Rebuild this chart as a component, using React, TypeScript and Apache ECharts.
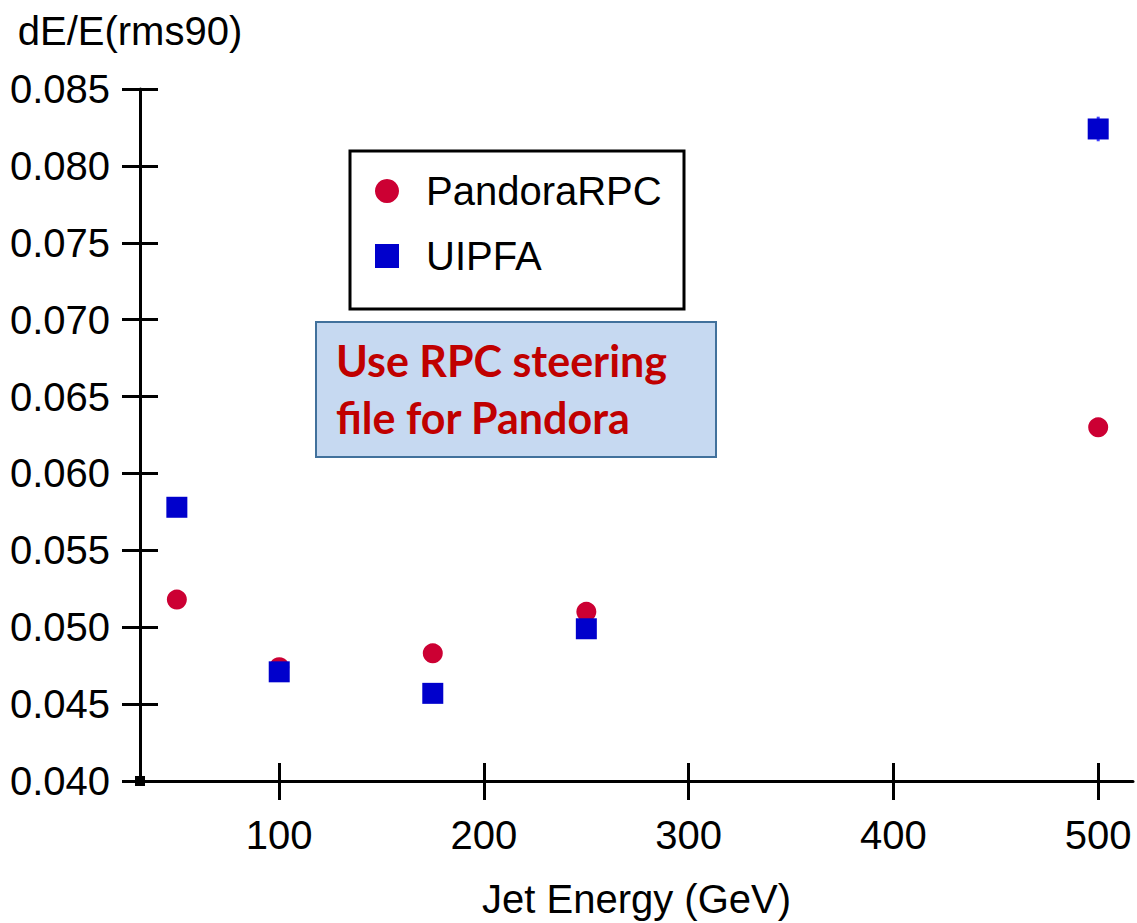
import React, { useEffect, useRef } from "react";
import * as echarts from "echarts";

const xValues = [50, 100, 175, 250, 500];
const pandoraRPC = [0.0518, 0.0474, 0.0483, 0.051, 0.063];
const uipfa = [0.0578, 0.0471, 0.0457, 0.0499, 0.0824];
const uipfaErr = [0, 0, 0, 0, 0.0008];
const xTicks = [100, 200, 300, 400, 500];
const yTicks = [0.04, 0.045, 0.05, 0.055, 0.06, 0.065, 0.07, 0.075, 0.08, 0.085];
const X_MIN = 32;
const X_MAX = 517;
const Y_MIN = 0.04;
const Y_MAX = 0.085;
const seriesNames = ["PandoraRPC", "UIPFA"];
const noteLines = ["Use RPC steering", "file for Pandora"];
const xTitle = "Jet Energy (GeV)";
const yTitle = "dE/E(rms90)";

const FONT = "'Liberation Sans', Arial, sans-serif";

export default function App() {
  const ref = useRef<HTMLDivElement>(null);
  useEffect(() => {
    if (!ref.current) return;
    const chart = echarts.init(ref.current, null, { renderer: "svg" });
    const lineStyle = { color: "#000", width: 3 };
    const xBase = {
      type: "value",
      min: X_MIN,
      max: X_MAX,
      position: "bottom",
      offset: 0,
      splitLine: { show: false },
    };
    const yBase = {
      type: "value",
      min: Y_MIN,
      max: Y_MAX,
      position: "left",
      offset: 0,
      splitLine: { show: false },
    };
    chart.setOption({
      animation: false,
      backgroundColor: "#fff",
      grid: { left: 140, right: 4, top: 89, bottom: 142, containLabel: false, outerBoundsMode: "none" },
      xAxis: [
        {
          ...xBase,
          axisLine: { show: true, lineStyle },
          axisTick: { show: true, customValues: xTicks, length: 19, lineStyle },
          axisLabel: { customValues: xTicks, fontSize: 40, color: "#000", fontFamily: FONT, margin: 34 },
          name: xTitle,
          nameLocation: "middle",
          nameGap: 98,
          nameTextStyle: { fontSize: 40, color: "#000", fontFamily: FONT },
        },
        {
          ...xBase,
          axisLine: { show: false },
          axisTick: { show: true, inside: true, customValues: xTicks, length: 18, lineStyle },
          axisLabel: { show: false },
        },
      ],
      yAxis: [
        {
          ...yBase,
          axisLine: { show: true, lineStyle },
          axisTick: { show: true, customValues: yTicks, length: 18, lineStyle },
          axisLabel: {
            customValues: yTicks,
            fontSize: 40,
            color: "#000",
            fontFamily: FONT,
            margin: 30,
            formatter: (v: number) => v.toFixed(3),
          },
          name: yTitle,
          nameLocation: "end",
          nameGap: 38,
          nameTextStyle: { fontSize: 40, color: "#000", fontFamily: FONT, padding: [0, 20, 0, 0] },
        },
        {
          ...yBase,
          axisLine: { show: false },
          axisTick: { show: true, inside: true, customValues: yTicks, length: 18, lineStyle },
          axisLabel: { show: false },
        },
      ],
      legend: {
        data: [
          { name: seriesNames[0], icon: "circle" },
          { name: seriesNames[1], icon: "rect" },
        ],
        orient: "vertical",
        left: 375,
        top: 171,
        padding: 0,
        itemWidth: 24,
        itemHeight: 24,
        itemGap: 25,
        selectedMode: false,
        textStyle: { fontSize: 40, lineHeight: 40, color: "#000", fontFamily: FONT, padding: [0, 0, 0, 22] },
      },
      graphic: [
        {
          type: "rect",
          z: 0,
          shape: { x: 350, y: 151, width: 334, height: 158 },
          style: { fill: "#fff", stroke: "#000", lineWidth: 3 },
        },
        {
          type: "rect",
          z: 0,
          shape: { x: 316, y: 322, width: 400, height: 135 },
          style: { fill: "#c6d9f1", stroke: "#41719c", lineWidth: 2 },
        },
        {
          type: "text",
          z: 1,
          x: 336,
          y: 332,
          style: {
            text: noteLines.join("\n"),
            font: "bold 43px Lato, 'Open Sans', sans-serif",
            fill: "#c00000",
            lineHeight: 57,
            verticalAlign: "top",
            align: "left",
          },
        },
      ],
      series: [
        {
          name: seriesNames[0],
          type: "scatter",
          symbol: "circle",
          symbolSize: 20,
          itemStyle: { color: "#cc0033", opacity: 1 },
          data: xValues.map((x, i) => [x, pandoraRPC[i]]),
          z: 3,
        },
        {
          type: "custom",
          silent: true,
          z: 3,
          data: xValues.map((x, i) => [x, uipfa[i], uipfaErr[i]]),
          renderItem: (params: any, api: any) => {
            const e = api.value(2);
            if (!e) return null;
            const x = api.value(0);
            const y = api.value(1);
            const p1 = api.coord([x, y - e]);
            const p2 = api.coord([x, y + e]);
            return {
              type: "line",
              shape: { x1: p1[0], y1: p1[1], x2: p2[0], y2: p2[1] },
              style: { stroke: "#4040ff", lineWidth: 3 },
            };
          },
        },
        {
          name: seriesNames[1],
          type: "scatter",
          symbol: "rect",
          symbolSize: 21,
          itemStyle: { color: "#0000cc", opacity: 1 },
          data: xValues.map((x, i) => [x, uipfa[i]]),
          z: 4,
        },
        {
          type: "scatter",
          symbol: "rect",
          symbolSize: 10,
          silent: true,
          clip: false,
          itemStyle: { color: "#000", opacity: 1 },
          data: [[X_MIN, Y_MIN]],
          z: 5,
        },
      ],
    });
    return () => chart.dispose();
  }, []);
  return (
    <div
      ref={ref}
      style={{ position: "fixed", left: 0, top: 0, width: 1137, height: 923, background: "#fff" }}
    />
  );
}
